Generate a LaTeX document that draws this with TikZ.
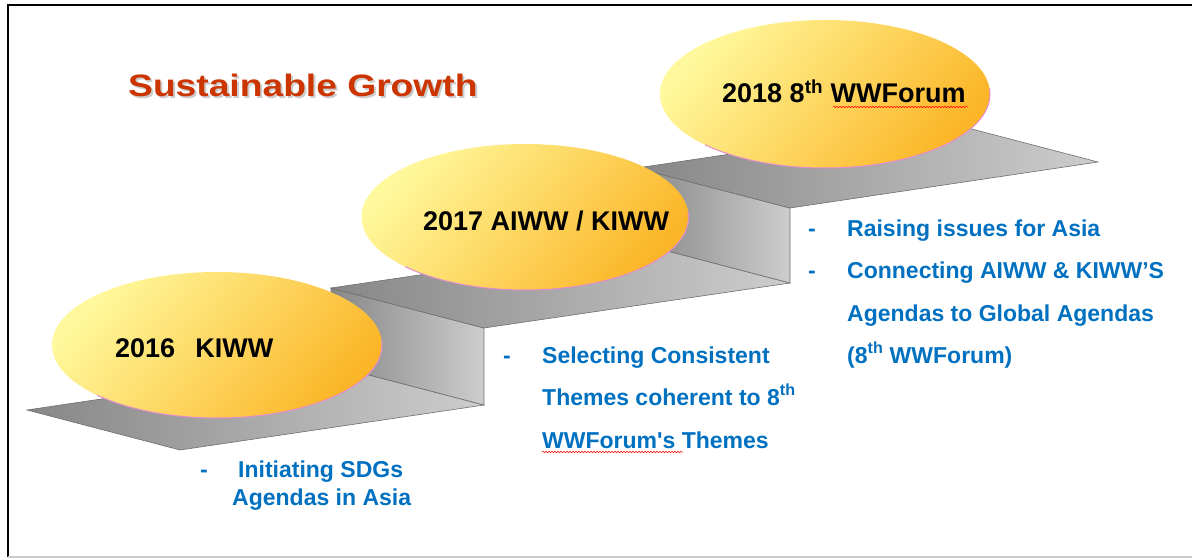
\documentclass[tikz,border=0pt]{standalone}
\usepackage{fontspec}
\setmainfont{Liberation Sans}
\usepackage{graphicx}
\usetikzlibrary{shapes.geometric,decorations.pathmorphing}
\definecolor{titlered}{RGB}{204,52,0}
\definecolor{agendablue}{RGB}{0,112,192}
\definecolor{eggyellow}{RGB}{255,248,156}
\definecolor{eggmid}{RGB}{254,225,112}
\definecolor{eggorange}{RGB}{251,182,40}
\definecolor{eggrim}{RGB}{228,140,205}
\definecolor{stepdark}{RGB}{135,135,135}
\definecolor{steplight}{RGB}{205,205,205}
\definecolor{stepline}{RGB}{110,110,110}

\begin{document}
\begin{tikzpicture}[x=1pt, y=-1pt,
    stair/.style={draw=stepline, line width=0.6pt, left color=stepdark, right color=steplight},
    egg/.style={ellipse, inner sep=0pt, minimum width=330pt, minimum height=146pt,
                top color=eggyellow, middle color=eggmid, bottom color=eggorange, shading angle=50},
    rim/.style={draw=eggrim, line width=1pt},
    year/.style={anchor=base west, inner sep=0pt, font=\fontsize{27}{30}\selectfont\bfseries},
    agenda/.style={anchor=base west, inner sep=0pt, text=agendablue, font=\fontsize{23}{26}\selectfont\bfseries},
    headline/.style={anchor=base west, inner sep=0pt, font=\fontsize{31}{34}\selectfont\bfseries},
    squiggle/.style={draw=red, line width=0.5pt, decorate, decoration={snake, amplitude=0.8pt, segment length=3pt}}]
    \useasboundingbox (0,0) rectangle (1192,559);
    \draw [line width=2.5pt] (8,557) -- (8,5) -- (1192,5);   %frame
    \draw [black!20, line width=1.2pt] (8,557) -- (1192,557);
    % stairs
    \draw [stair] (27,410) -- (180,450) -- (484,405) -- (331,365) -- cycle;   %floor
    \draw [stair] (331,365) -- (484,405) -- (484,328) -- (331,288) -- cycle;  %riser 1
    \draw [stair] (331,288) -- (484,328) -- (790,283) -- (637,243) -- cycle;  %tread 2
    \draw [stair] (637,243) -- (790,283) -- (790,208) -- (637,168) -- cycle;  %riser 2
    \draw [stair] (637,168) -- (790,208) -- (1098,162) -- (945,122) -- cycle; %tread 3
    % ellipses
    \node [egg] (e16) at (217,345) {};
    \node [egg, minimum width=327pt] (e17) at (525,217) {};
    \node [egg, minimum height=148pt] (e18) at (825,94) {};
    \foreach \e/\rx/\ry in {e16/165/73, e17/163.5/73, e18/165/74}{   %pink rim, lower side only
        \begin{scope}
            \clip ([shift={(-120,-5)}]\e.center) rectangle ([shift={(175,80)}]\e.center);
            \draw [rim] (\e.center) ellipse [x radius=\rx, y radius=\ry];
        \end{scope}
    }
    \node [year] (y16) at (115,357) {2016\hspace{0.75em}KIWW};
    \node [year] (y17) at (423,230) {2017 AIWW / KIWW};
    \node [year] (y18) at (722,103) {2018 8\textsuperscript{th} WWForum};
    \draw [squiggle] (833,107) -- (968,107);
    % title
    \node [headline, text=black!40, opacity=0.5] (shadow) at (130,99) {\scalebox{1.2}[1]{Sustainable Growth}};
    \node [headline, text=titlered] (title) at (128,97) {\scalebox{1.2}[1]{Sustainable Growth}};
    % agendas
    \node [agenda] (d1) at (200,477) {-};
    \node [agenda] (a1) at (238,477) {Initiating SDGs};
    \node [agenda] (a2) at (232,505) {Agendas in Asia};
    \node [agenda] (d2) at (503,363) {-};
    \node [agenda] (b1) at (542,363) {Selecting Consistent};
    \node [agenda] (b2) at (542,405) {Themes coherent to 8\textsuperscript{th}};
    \node [agenda] (b3) at (542,448) {WWForum\textquotesingle s Themes};
    \draw [squiggle] (542,452) -- (683,452);
    \node [agenda] (d3) at (808,236) {-};
    \node [agenda] (d4) at (808,278) {-};
    \node [agenda] (c1) at (847,236) {Raising issues for Asia};
    \node [agenda] (c2) at (847,278) {Connecting AIWW \& KIWW’S};
    \node [agenda] (c3) at (847,321) {Agendas to Global Agendas};
    \node [agenda] (c4) at (847,363) {(8\textsuperscript{th} WWForum)};
\end{tikzpicture}
\end{document}
